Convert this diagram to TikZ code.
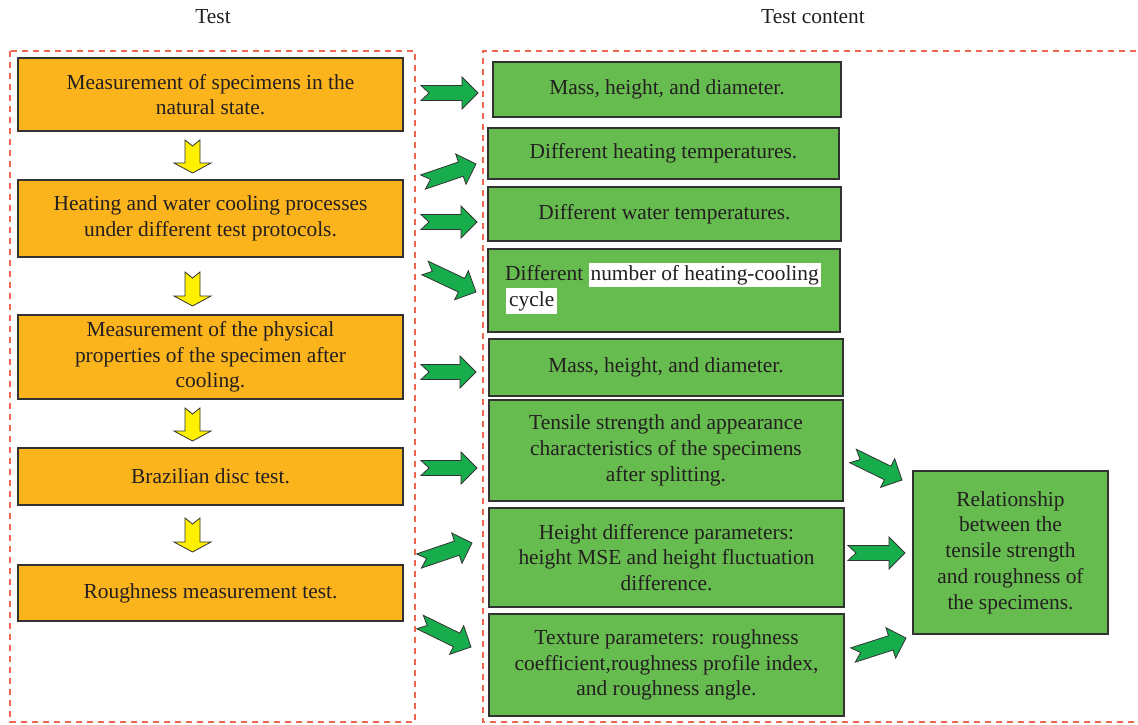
\documentclass[tikz,border=0pt]{standalone}
\usepackage{fontspec}
\setmainfont{Liberation Serif}
\usepackage{tikz}
\usetikzlibrary{calc}

\definecolor{boxorange}{RGB}{251,180,28}
\definecolor{boxgreen}{RGB}{103,188,80}
\definecolor{arrgreen}{RGB}{24,173,76}
\definecolor{arryellow}{RGB}{255,240,0}
\definecolor{dashred}{RGB}{240,102,80}
\definecolor{edgegray}{RGB}{50,50,50}
\definecolor{txtgray}{RGB}{35,31,32}

% notched block arrow from one named point to another
\newcommand{\fatarrow}[3][greenarr]{%
  \path let \p1=(#2), \p2=(#3) in \pgfextra{%
    \pgfmathsetmacro\arrang{atan2(\y2-\y1,\x2-\x1)}%
    \pgfmathsetmacro\arrlen{veclen(\x2-\x1,\y2-\y1)}%
    \global\let\arrang\arrang \global\let\arrlen\arrlen};
  \draw[#1, shift={(#2)}, rotate=\arrang]
    (0pt,\sw) -- (\arrlen pt-\hl,\sw) -- (\arrlen pt-\hl,\hw) -- (\arrlen pt,0pt)
    -- (\arrlen pt-\hl,-\hw) -- (\arrlen pt-\hl,-\sw) -- (0pt,-\sw) -- (\nd,0pt) -- cycle;}

\begin{document}
\begin{tikzpicture}[x=1pt, y=-1pt,
    every node/.append style={text=txtgray, font=\fontsize{21.4}{25.7}\selectfont},
    frame/.style={draw=dashred, line width=1.4pt, dash pattern=on 6pt off 5pt},
    obox/.style={draw=edgegray, line width=1.2pt, fill=boxorange, align=center,
      minimum width=385pt, inner sep=0pt},
    gbox/.style={draw=edgegray, line width=1.2pt, fill=boxgreen, align=center, inner sep=0pt},
    greenarr/.style={fill=arrgreen, draw=black!80, line width=0.8pt, line join=miter,
      /utils/exec={\def\sw{7.5pt}\def\hw{16pt}\def\hl{16pt}\def\nd{8pt}}},
    yellowarr/.style={fill=arryellow, draw=black!80, line width=0.8pt, line join=miter,
      /utils/exec={\def\sw{7.5pt}\def\hw{18.5pt}\def\hl{10pt}\def\nd{6pt}}}]
  \useasboundingbox (0,0) rectangle (1138,724);

  \node (testhead) at (213,17) {Test};
  \node (contenthead) at (813,17) {Test content};

  \draw[frame] (10,51) rectangle (415,722);
  \draw[frame] (1145,722) -- (483,722) -- (483,51) -- (1145,51);

  \node[obox, minimum height=73pt] (o1) at (210.5,94.5) {Measurement of specimens in the\\natural state.};
  \node[obox, minimum height=77pt] (o2) at (210.5,218.5) {Heating and water cooling processes\\under different test protocols.};
  \node[obox, minimum height=84pt] (o3) at (210.5,357) {Measurement of the physical\\properties of the specimen after\\cooling.};
  \node[obox, minimum height=57pt] (o4) at (210.5,476.5) {Brazilian disc test.};
  \node[obox, minimum height=56pt] (o5) at (210.5,593) {Roughness measurement test.};

  \node[gbox, minimum width=348pt, minimum height=55pt] (g1) at (667,89.5) {Mass, height, and diameter.};
  \node[gbox, minimum width=351pt, minimum height=51pt] (g2) at (663.5,153.5) {Different heating temperatures.};
  \node[gbox, minimum width=353pt, minimum height=54pt] (g3) at (664.5,214) {Different water temperatures.};
  \node[gbox, minimum width=352pt, minimum height=83pt] (g4) at (664,290.5) {};
  \node[anchor=west, align=left, inner sep=0pt] (g4txt) at (505,288.5)
    {\setlength{\fboxsep}{2pt}Different \colorbox{white}{number of heating-cooling}\\\hspace{1pt}\colorbox{white}{cycle}};
  \node[gbox, minimum width=354pt, minimum height=57pt] (g5) at (666,367.5) {Mass, height, and diameter.};
  \node[gbox, minimum width=354pt, minimum height=101pt] (g6) at (666,450.5) {Tensile strength and appearance\\characteristics of the specimens\\after splitting.};
  \node[gbox, minimum width=355pt, minimum height=99pt] (g7) at (666.5,557.5) {Height difference parameters:\\height MSE and height fluctuation\\difference.};
  \node[gbox, minimum width=355pt, minimum height=102pt] (g8) at (666.5,665) {Texture parameters: roughness\\coefficient,roughness profile index,\\and roughness angle.};
  \node[gbox, minimum width=195pt, minimum height=163pt] (rel) at (1010.5,552.5) {Relationship\\between the\\tensile strength\\and roughness of\\the specimens.};

  \coordinate (y1a) at (192.5,140); \coordinate (y1b) at (192.5,173);
  \coordinate (y2a) at (192.5,272); \coordinate (y2b) at (192.5,306);
  \coordinate (y3a) at (192.5,408); \coordinate (y3b) at (192.5,441);
  \coordinate (y4a) at (192.5,518); \coordinate (y4b) at (192.5,552);
  \fatarrow[yellowarr]{y1a}{y1b}
  \fatarrow[yellowarr]{y2a}{y2b}
  \fatarrow[yellowarr]{y3a}{y3b}
  \fatarrow[yellowarr]{y4a}{y4b}

  \coordinate (a1a) at (421,93);  \coordinate (a1b) at (478,93);
  \coordinate (a2a) at (423,182); \coordinate (a2b) at (476,164);
  \coordinate (a3a) at (421,222); \coordinate (a3b) at (477,222);
  \coordinate (a4a) at (425,268); \coordinate (a4b) at (476,292);
  \coordinate (a5a) at (421,372); \coordinate (a5b) at (476,372);
  \coordinate (a6a) at (421,468); \coordinate (a6b) at (477,468);
  \coordinate (a7a) at (419,561); \coordinate (a7b) at (472,543);
  \coordinate (a8a) at (420,622); \coordinate (a8b) at (471,647);
  \coordinate (a9a) at (853,456); \coordinate (a9b) at (902,480);
  \coordinate (a10a) at (848,553); \coordinate (a10b) at (905,553);
  \coordinate (a11a) at (853,655); \coordinate (a11b) at (906,638);
  \foreach \k in {1,...,11}{\fatarrow{a\k a}{a\k b}}
\end{tikzpicture}
\end{document}
